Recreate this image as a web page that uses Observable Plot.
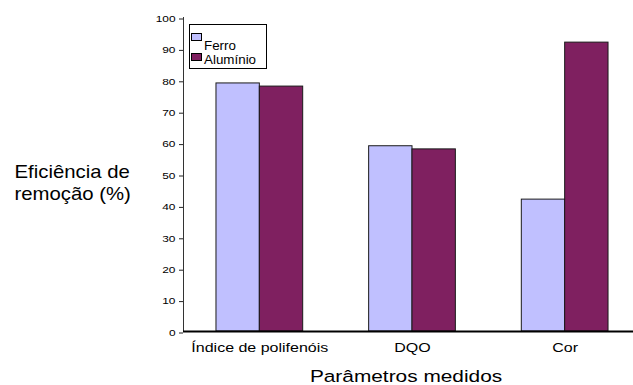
<!DOCTYPE html>
<html>
<head>
<meta charset="utf-8">
<script src="https://cdn.jsdelivr.net/npm/d3@7"></script>
<script src="https://cdn.jsdelivr.net/npm/@observablehq/plot@0.6"></script>
<style>
  html, body { margin: 0; padding: 0; background: #fff; overflow: hidden; }
  #chart { position: relative; width: 633px; height: 385px; overflow: hidden; }
  #chart svg { position: absolute; left: 0; top: 0; max-width: none !important; }
</style>
</head>
<body>
<div id="chart"></div>
<script>
// Measured parameters and removal efficiency (%) per coagulant
const categories = ["Índice de polifenóis", "DQO", "Cor"];
const series = ["Ferro", "Alumínio"];
const ferro = [79, 59, 42];
const aluminio = [78, 58, 92];
const colors = ["#c0c0ff", "#7f2060"];
const yTicks = [0, 10, 20, 30, 40, 50, 60, 70, 80, 90, 100];
const yTitle = "Eficiência de\nremoção (%)";
const xTitle = "Parâmetros medidos";

const font = "Liberation Sans, Arial, sans-serif";

// Each category occupies one unit on x; the pair of bars sits centred in it
const barWidth = 0.284;
const rows = [];
categories.forEach((c, i) => {
  [ferro, aluminio].forEach((vals, s) => {
    rows.push({category: c, index: i, series: series[s], value: vals[i],
               x1: i + (s - 1) * barWidth, x2: i + s * barWidth});
  });
});

const plot = Plot.plot({
  width: 641,
  height: 385,
  marginLeft: 183,
  marginRight: 0,
  marginTop: 17,
  marginBottom: 54,
  style: {fontFamily: font, color: "#000", background: "transparent", maxWidth: "none"},
  x: {domain: [-0.5, 2.5]},
  y: {domain: [0, 100]},
  color: {domain: series, range: colors},
  marks: [
    Plot.rectY(rows, {x1: "x1", x2: "x2", y: "value", fill: "series", stroke: "#1a1a1a", strokeWidth: 1}),
    Plot.axisY({ticks: yTicks, tickSize: 4, tickPadding: 4, fontSize: 8.5, dy: 1.5, label: null, stroke: "#222"}),
    Plot.axisX({ticks: categories.map((c, i) => i), tickFormat: i => categories[i], tickSize: 0, tickPadding: 12, fontSize: 12.5, label: null}),
    Plot.ruleX([-0.5], {stroke: "#333", strokeWidth: 1}),
    Plot.ruleY([0], {stroke: "#000", strokeWidth: 2}),
    Plot.text([yTitle], {frameAnchor: "left", dx: -169, dy: 7, textAnchor: "start", fontSize: 19, lineHeight: 1.158, fill: "#000"}),
    Plot.text([xTitle], {frameAnchor: "bottom", dx: -6.5, dy: 50, textAnchor: "middle", fontSize: 16.3, fill: "#000"})
  ]
});

const chart = document.getElementById("chart");
chart.appendChild(plot);

// The lettering of this chart is set wide: stretch each label horizontally
function widen(el, k) {
  const len = el.getComputedTextLength();
  el.setAttribute("textLength", len * k);
  el.setAttribute("lengthAdjust", "spacingAndGlyphs");
}
plot.querySelectorAll('g[aria-label="y-axis tick label"] text').forEach(el => widen(el, 1.4));
plot.querySelectorAll('g[aria-label="x-axis tick label"] text').forEach(el => widen(el, 1.28));
plot.querySelectorAll("text").forEach(el => {
  if (el.textContent === xTitle) widen(el, 1.28);
});
plot.querySelectorAll("tspan").forEach(el => widen(el, 1.07));

// Series key boxed in the upper-left corner of the plot
const legend = d3.create("svg")
  .attr("width", 80).attr("height", 48)
  .style("position", "absolute").style("left", "189px").style("top", "24px")
  .style("font-family", font);
legend.append("rect")
  .attr("x", 0.5).attr("y", 0.5).attr("width", 77).attr("height", 44)
  .attr("fill", "#fff").attr("stroke", "#000");
chart.appendChild(legend.node());
series.forEach((name, i) => {
  legend.append("rect")
    .attr("x", 2.5).attr("y", 9.5 + i * 20).attr("width", 10).attr("height", 7)
    .attr("fill", colors[i]).attr("stroke", "#000");
  const t = legend.append("text")
    .attr("x", 15).attr("y", 25.5 + i * 14.2)
    .attr("font-size", 12.5).attr("fill", "#000")
    .text(name);
  widen(t.node(), 1.07);
});
</script>
</body>
</html>
